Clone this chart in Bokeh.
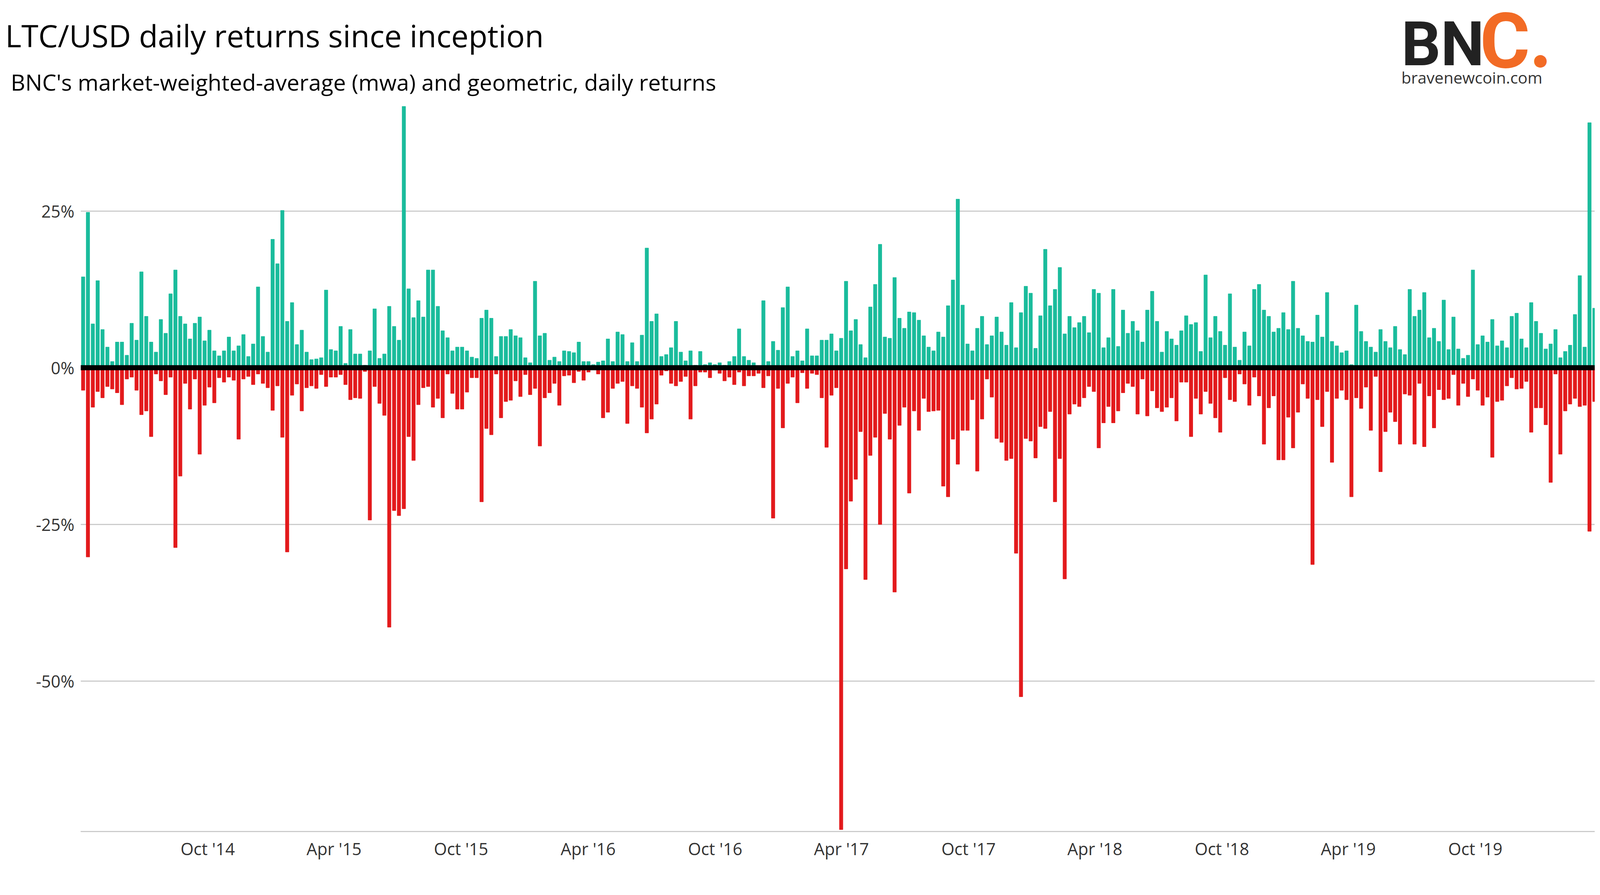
import pandas as pd
from bokeh.plotting import figure
from bokeh.layouts import column
from bokeh.models import (Range1d, FixedTicker, DatetimeTickFormatter,
                          PrintfTickFormatter, Span, Label)
from bokeh.embed import file_html
from bokeh.resources import INLINE

# weekly extremes of the daily returns (%), first week starts 2014-04-01
first_week = "2014-04-01"

weekly_gain = [
    14.5, 24.8, 7.0, 13.9, 6.1, 3.3, 1.0, 4.1, 4.1, 2.0, 7.1, 4.4, 15.3, 8.2, 4.1, 2.5,
    7.7, 5.5, 11.8, 15.6, 8.2, 7.0, 4.6, 7.1, 8.1, 4.3, 6.0, 2.7, 1.9, 2.7, 4.9, 2.7,
    3.5, 5.3, 1.8, 3.8, 12.9, 5.0, 2.5, 20.5, 16.6, 25.1, 7.4, 10.4, 3.7, 6.0, 2.5, 1.3,
    1.4, 1.6, 12.4, 2.9, 2.7, 6.6, 0.7, 6.1, 2.2, 2.2, 0.4, 2.7, 9.4, 1.5, 2.2, 9.8,
    6.6, 4.4, 41.7, 12.6, 8.0, 10.7, 8.1, 15.6, 15.6, 9.8, 5.9, 4.8, 2.7, 3.3,
    # Sep 2015 - Mar 2017
    3.3, 2.7, 1.7, 1.5, 7.9, 9.2, 7.9, 1.8, 5.0, 5.0, 6.1, 5.1, 4.8, 1.6, 0.8, 13.8,
    5.1, 5.5, 1.2, 1.7, 1.0, 2.7, 2.6, 2.4, 4.1, 1.0, 1.0, 0.5, 0.9, 1.1, 4.6, 1.0,
    5.7, 5.3, 1.0, 4.0, 1.0, 5.2, 19.1, 7.4, 8.6, 1.8, 2.1, 3.2, 7.4, 2.5, 1.1, 2.7,
    0.4, 2.6, 0.5, 0.8, 0.5, 0.8, 0.4, 1.0, 1.8, 6.2, 1.8, 1.2, 0.8, 0.3, 10.7, 1.0,
    4.2, 2.8, 9.6, 12.9, 1.8, 2.7, 1.1, 6.2, 1.9, 1.9, 4.4, 4.4, 5.4, 2.7,
    # Mar 2017 - Sep 2018
    4.7, 13.8, 5.9, 7.7, 3.7, 1.6, 9.7, 13.3, 19.7, 4.9, 4.7, 14.4, 7.9, 6.3, 8.9, 8.8,
    7.6, 5.1, 3.3, 2.7, 5.7, 4.9, 9.9, 14.0, 26.9, 10.0, 3.8, 2.7, 6.3, 8.2, 3.7, 5.1,
    8.1, 5.7, 3.6, 10.4, 3.2, 8.8, 13.0, 11.9, 3.1, 8.3, 18.9, 9.9, 12.5, 16.0, 5.4, 8.2,
    6.4, 7.2, 8.2, 5.6, 12.5, 11.9, 3.2, 4.8, 12.5, 3.4, 9.2, 5.5, 7.4, 5.9, 4.1, 9.2,
    12.2, 7.4, 2.5, 5.8, 4.6, 3.6, 5.9, 8.3, 6.9, 7.2, 2.6, 14.8, 4.8, 8.2,
    # Sep 2018 - Mar 2020
    5.8, 3.6, 11.8, 3.3, 1.2, 5.7, 3.5, 12.5, 13.3, 9.2, 8.2, 5.7, 6.3, 8.8, 6.1, 13.8,
    6.3, 5.1, 4.2, 4.1, 8.4, 4.9, 12.0, 4.2, 3.5, 2.4, 2.7, 0.5, 10.0, 5.8, 4.2, 3.3,
    2.5, 6.1, 4.2, 3.2, 6.6, 2.9, 2.1, 12.5, 8.2, 9.2, 12.0, 4.8, 6.3, 4.2, 10.8, 2.9,
    8.1, 3.0, 1.5, 2.0, 15.6, 3.7, 5.1, 4.1, 7.7, 3.5, 4.3, 3.2, 8.2, 8.7, 4.6, 3.2,
    10.4, 7.4, 5.5, 3.0, 3.8, 6.1, 1.6, 2.6, 3.6, 8.5, 14.7, 3.3, 39.1, 9.5,
]

weekly_loss = [
    -3.6, -30.2, -6.3, -3.8, -4.8, -3.0, -3.4, -4.0, -5.9, -1.8, -1.5, -3.6, -7.5, -6.9, -11.0, -1.0,
    -2.1, -4.3, -1.5, -28.7, -17.3, -2.5, -6.6, -1.8, -13.8, -6.0, -3.1, -5.6, -1.6, -2.3, -1.5, -2.0,
    -11.4, -1.8, -1.4, -2.7, -1.0, -2.5, -3.2, -6.8, -2.9, -11.1, -29.4, -4.4, -2.6, -6.9, -3.2, -2.9,
    -3.3, -1.1, -3.0, -1.5, -1.5, -1.1, -2.7, -5.1, -4.8, -4.9, -0.6, -24.3, -3.0, -5.7, -7.6, -41.4,
    -22.8, -23.6, -22.5, -11.0, -14.8, -5.9, -3.2, -3.0, -6.3, -4.9, -8.0, -1.0, -4.1, -6.6,
    # Sep 2015 - Mar 2017
    -6.6, -3.9, -1.6, -1.6, -21.4, -9.7, -10.7, -1.0, -8.0, -5.4, -5.2, -2.1, -4.6, -1.1, -4.3, -3.3,
    -12.5, -4.8, -4.0, -2.5, -6.0, -1.3, -1.2, -2.4, -0.6, -2.0, -0.7, -0.3, -1.0, -8.0, -7.1, -3.3,
    -2.5, -2.2, -8.9, -2.9, -3.3, -6.3, -10.4, -8.2, -5.8, -1.2, -0.5, -2.5, -2.9, -2.2, -1.4, -8.2,
    -2.9, -0.7, -0.7, -1.6, -0.4, -0.9, -2.1, -1.5, -2.7, -0.7, -2.9, -1.3, -1.3, -0.9, -3.2, -1.3,
    -24.0, -3.3, -9.6, -2.5, -1.5, -5.6, -0.8, -3.3, -0.9, -1.1, -4.8, -12.7, -4.4, -3.2,
    # Mar 2017 - Sep 2018
    -73.7, -32.1, -21.3, -17.8, -10.2, -33.8, -14.0, -11.1, -25.0, -7.3, -11.4, -35.8, -9.2, -6.3, -20.0, -6.9,
    -10.0, -4.9, -7.0, -6.9, -6.8, -18.9, -20.6, -11.4, -15.4, -10.0, -10.0, -5.1, -16.5, -8.2, -1.8, -4.7,
    -11.3, -11.9, -14.8, -14.5, -29.6, -52.5, -11.3, -11.7, -14.4, -9.4, -9.7, -7.0, -21.4, -14.5, -33.7, -7.4,
    -5.8, -6.2, -4.8, -3.0, -3.8, -12.8, -8.8, -6.2, -8.8, -6.9, -4.0, -2.5, -3.0, -7.4, -1.8, -7.7,
    -3.7, -6.4, -7.0, -6.3, -4.8, -8.5, -2.3, -2.3, -11.0, -4.9, -7.4, -3.8, -5.7, -8.0,
    # Sep 2018 - Mar 2020
    -10.3, -1.6, -5.1, -5.4, -1.0, -2.6, -6.0, -1.5, -4.5, -12.2, -6.4, -4.5, -14.7, -14.7, -7.9, -12.8,
    -7.1, -2.6, -4.9, -31.4, -5.1, -9.4, -3.8, -15.1, -4.9, -3.6, -5.1, -20.6, -4.8, -6.5, -3.1, -10.0,
    -1.4, -16.6, -10.2, -7.1, -8.6, -12.2, -4.2, -4.4, -12.2, -2.5, -12.6, -4.5, -9.6, -3.5, -5.1, -4.9,
    -1.1, -6.0, -2.5, -4.6, -1.8, -3.6, -6.0, -4.7, -14.3, -5.4, -5.2, -2.9, -1.6, -3.4, -3.3, -2.2,
    -10.3, -6.4, -6.4, -9.1, -18.3, -1.0, -13.8, -6.9, -5.8, -4.9, -6.2, -6.0, -26.1, -5.4,
]

x_ticks = ["2014-10-01", "2015-04-01", "2015-10-01", "2016-04-01", "2016-10-01", "2017-04-01",
           "2017-10-01", "2018-04-01", "2018-10-01", "2019-04-01", "2019-10-01"]
y_ticks = [-50, -25, 0, 25]

FONT = "Open Sans"
GREEN = "#1abc9c"
RED = "#e31a1c"
ORANGE = "#f26b25"
DAY = 86400000
SPAN_DAYS = 2181
Y_MIN, Y_MAX = -74.0, 42.0

W = 4099            # canvas width of both figures
HEAD_H = 260        # header strip with title, subtitle and logo
MAIN_H = 1987

weeks = pd.date_range(first_week, periods=len(weekly_gain), freq="7D") + pd.Timedelta(hours=84)
start = pd.Timestamp(first_week)

# ---- header: titles and logo (data units = pixels, y upwards) ----
head = figure(width=W, height=HEAD_H, x_range=Range1d(0, W), y_range=Range1d(0, HEAD_H),
              x_axis_location=None, y_axis_location=None, title=None,
              toolbar_location=None, tools="", output_backend="svg",
              min_border=0, outline_line_color=None)
head.grid.visible = False
head.frame_align = False


def head_text(x, y, text, size, color, font=FONT, style="normal", align="left"):
    head.add_layout(Label(x=x, y=y, text=text, text_font=font, text_font_style=style,
                          text_font_size=size, text_color=color,
                          text_align=align, text_baseline="middle"))


head_text(13, 170, "LTC/USD daily returns since inception", "79px", "#000000")
head_text(27, 51, "BNC's market-weighted-average (mwa) and geometric, daily returns", "57.5px", "#000000")
head_text(3587, 148, "BN", "158px", "#222222", font="Roboto", style="bold")
head_text(3788, 155, "C", "196px", ORANGE, font="Roboto", style="bold")
head_text(3943, 107, "\u25cf", "42px", ORANGE, font="DejaVu Sans", align="center")
head_text(3587, 63, "bravenewcoin.com", "41px", "#333333")

# ---- main chart ----
p = figure(
    width=W, height=MAIN_H,
    x_axis_type="datetime",
    x_range=Range1d(start, start + pd.Timedelta(days=SPAN_DAYS)),
    y_range=Range1d(Y_MIN, Y_MAX),
    title=None,
    toolbar_location=None,
    tools="",
    output_backend="svg",
    min_border_left=206, min_border_right=17,
    min_border_top=7, min_border_bottom=119,
    outline_line_color=None,
)
p.frame_align = False

p.vbar(x=weeks, width=5 * DAY, top=weekly_gain, bottom=0, color=GREEN)
p.vbar(x=weeks, width=5 * DAY, top=0, bottom=weekly_loss, color=RED)

p.add_layout(Span(location=0, dimension="width", line_color="black", line_width=13))

p.xaxis.ticker = FixedTicker(ticks=[pd.Timestamp(d).value // 10**6 for d in x_ticks])
fmt = "%b '%y"
p.xaxis.formatter = DatetimeTickFormatter(days=fmt, months=fmt, years=fmt)
p.xaxis.axis_line_color = "#cccccc"
p.xaxis.axis_line_width = 3
p.xaxis.major_tick_line_color = None
p.xaxis.minor_tick_line_color = None
p.xaxis.major_label_standoff = 8

p.yaxis.ticker = FixedTicker(ticks=y_ticks)
p.yaxis.formatter = PrintfTickFormatter(format="%d%%")
p.yaxis.axis_line_color = None
p.yaxis.major_tick_line_color = None
p.yaxis.minor_tick_line_color = None
p.yaxis.major_label_standoff = 10

for ax in (p.xaxis, p.yaxis):
    ax.major_label_text_font = FONT
    ax.major_label_text_font_size = "43px"
    ax.major_label_text_color = "#333333"

p.xgrid.grid_line_color = None
p.ygrid.grid_line_color = "#cccccc"
p.ygrid.grid_line_width = 3

layout = column(head, p, spacing=0)

open("out.html", "w").write(file_html(layout, INLINE))
